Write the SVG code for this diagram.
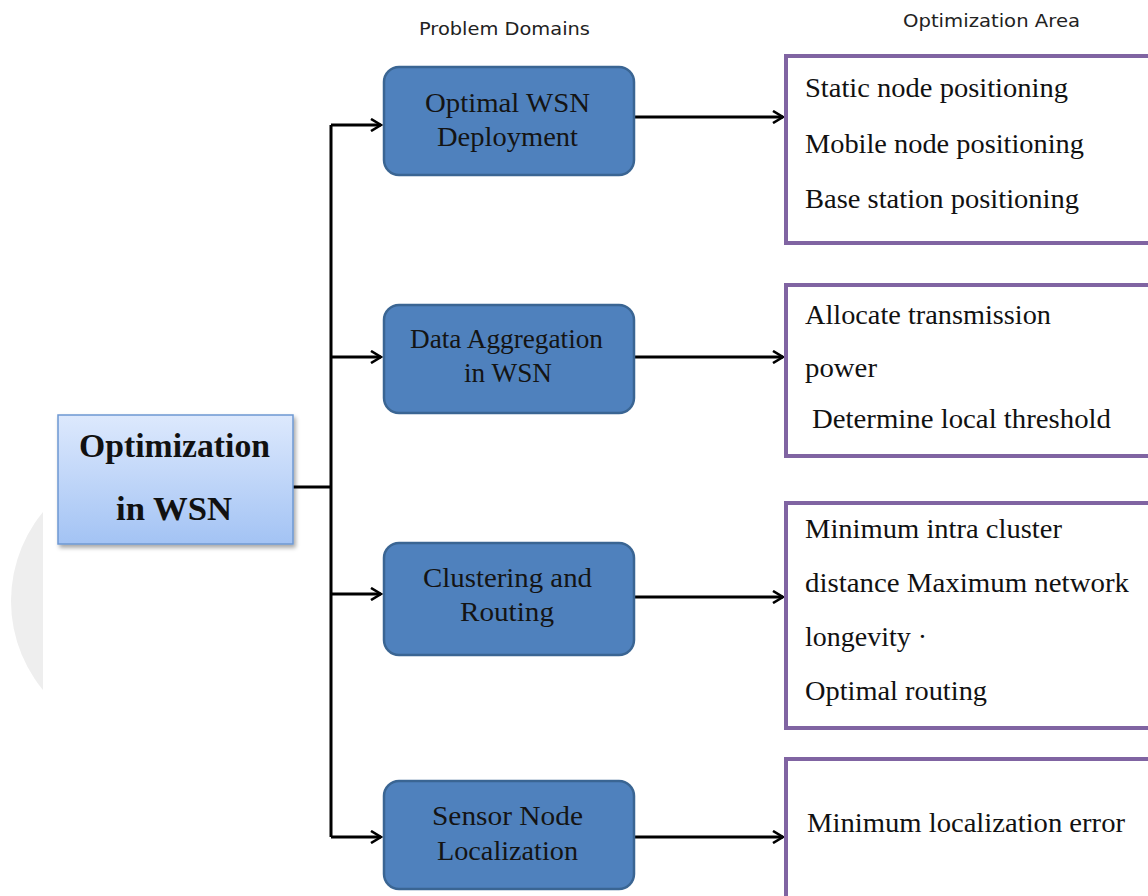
<svg xmlns="http://www.w3.org/2000/svg" width="1148" height="896" viewBox="0 0 1148 896">
<defs>
<linearGradient id="gl" x1="0" y1="0" x2="0" y2="1">
<stop offset="0" stop-color="#dde9fd"/>
<stop offset="1" stop-color="#a3c3f4"/>
</linearGradient>
<clipPath id="cc"><rect x="0" y="0" width="43" height="896"/></clipPath>
<filter id="sh" x="-10%" y="-10%" width="125%" height="130%">
<feDropShadow dx="2" dy="3" stdDeviation="2" flood-color="#000" flood-opacity="0.35"/>
</filter>
<marker id="ar" viewBox="0 0 14 14" refX="12" refY="7" markerWidth="14" markerHeight="14" markerUnits="userSpaceOnUse" orient="auto">
<path d="M2,1 L12,7 L2,13" fill="none" stroke="#000" stroke-width="2.6"/>
</marker>
<style>
.con{fill:none;stroke:#000;stroke-width:3}
.blue{fill:#4f81bd;stroke:#3a6593;stroke-width:2.5}
.pur{fill:#fff;stroke:#8064a2;stroke-width:4}
.bt{font-family:"Liberation Serif",serif;font-size:28px;fill:#141414}
.pt{font-family:"Liberation Serif",serif;font-size:28px;fill:#111}
.rt{font-family:"Liberation Serif",serif;font-size:34px;font-weight:bold;fill:#111}
.hd{font-family:"DejaVu Sans",sans-serif;font-size:18px;fill:#222}
</style>
</defs>
<rect width="1148" height="896" fill="#fff"/>
<circle cx="151" cy="601" r="140" fill="#eeeeee" clip-path="url(#cc)"/>
<text class="hd" x="419" y="35" textLength="171" lengthAdjust="spacingAndGlyphs">Problem Domains</text>
<text class="hd" x="903" y="27" textLength="177" lengthAdjust="spacingAndGlyphs">Optimization Area</text>
<g id="connectors">
<path class="con" d="M293,487 H331"/>
<path class="con" d="M331,837 V125"/>
<path class="con" d="M331,125 H381" marker-end="url(#ar)"/>
<path class="con" d="M331,357 H381" marker-end="url(#ar)"/>
<path class="con" d="M331,594 H381" marker-end="url(#ar)"/>
<path class="con" d="M331,837 H381" marker-end="url(#ar)"/>
<path class="con" d="M635,117 H783" marker-end="url(#ar)"/>
<path class="con" d="M635,357 H783" marker-end="url(#ar)"/>
<path class="con" d="M635,597 H783" marker-end="url(#ar)"/>
<path class="con" d="M635,837 H783" marker-end="url(#ar)"/>
</g>
<g id="root">
<rect x="58" y="415" width="235" height="129" fill="url(#gl)" stroke="#6e98d2" stroke-width="1.5" filter="url(#sh)"/>
<text class="rt" x="79" y="457" textLength="191" lengthAdjust="spacingAndGlyphs">Optimization</text>
<text class="rt" x="116" y="520" textLength="116" lengthAdjust="spacingAndGlyphs">in WSN</text>
</g>
<g id="d1">
<rect class="blue" x="384" y="67" width="250" height="108" rx="15"/>
<text class="bt" x="425" y="112" textLength="165" lengthAdjust="spacingAndGlyphs">Optimal WSN</text>
<text class="bt" x="437" y="146" textLength="141" lengthAdjust="spacingAndGlyphs">Deployment</text>
</g>
<g id="d2">
<rect class="blue" x="384" y="305" width="250" height="108" rx="15"/>
<text class="bt" x="410" y="348" textLength="193" lengthAdjust="spacingAndGlyphs">Data Aggregation</text>
<text class="bt" x="464" y="382" textLength="88" lengthAdjust="spacingAndGlyphs">in WSN</text>
</g>
<g id="d3">
<rect class="blue" x="384" y="543" width="250" height="112" rx="15"/>
<text class="bt" x="423" y="587" textLength="169" lengthAdjust="spacingAndGlyphs">Clustering and</text>
<text class="bt" x="460" y="621" textLength="94" lengthAdjust="spacingAndGlyphs">Routing</text>
</g>
<g id="d4">
<rect class="blue" x="384" y="781" width="250" height="108" rx="15"/>
<text class="bt" x="432" y="825" textLength="151" lengthAdjust="spacingAndGlyphs">Sensor Node</text>
<text class="bt" x="437" y="860" textLength="141" lengthAdjust="spacingAndGlyphs">Localization</text>
</g>
<g id="a1">
<rect class="pur" x="786" y="56" width="380" height="187"/>
<text class="pt" x="805" y="97" textLength="263" lengthAdjust="spacingAndGlyphs">Static node positioning</text>
<text class="pt" x="805" y="153" textLength="279" lengthAdjust="spacingAndGlyphs">Mobile node positioning</text>
<text class="pt" x="805" y="208" textLength="274" lengthAdjust="spacingAndGlyphs">Base station positioning</text>
</g>
<g id="a2">
<rect class="pur" x="786" y="285" width="380" height="171"/>
<text class="pt" x="805" y="324" textLength="246" lengthAdjust="spacingAndGlyphs">Allocate transmission</text>
<text class="pt" x="805" y="377" textLength="72" lengthAdjust="spacingAndGlyphs">power</text>
<text class="pt" x="812" y="428" textLength="299" lengthAdjust="spacingAndGlyphs">Determine local threshold</text>
</g>
<g id="a3">
<rect class="pur" x="786" y="503" width="380" height="225"/>
<text class="pt" x="805" y="538" textLength="257" lengthAdjust="spacingAndGlyphs">Minimum  intra cluster</text>
<text class="pt" x="805" y="592" textLength="324" lengthAdjust="spacingAndGlyphs">distance Maximum  network</text>
<text class="pt" x="805" y="646" textLength="122" lengthAdjust="spacingAndGlyphs">longevity ·</text>
<text class="pt" x="805" y="700" textLength="182" lengthAdjust="spacingAndGlyphs">Optimal routing</text>
</g>
<g id="a4">
<rect class="pur" x="786" y="759" width="380" height="160"/>
<text class="pt" x="807" y="832" textLength="318" lengthAdjust="spacingAndGlyphs">Minimum  localization  error</text>
</g>
</svg>
